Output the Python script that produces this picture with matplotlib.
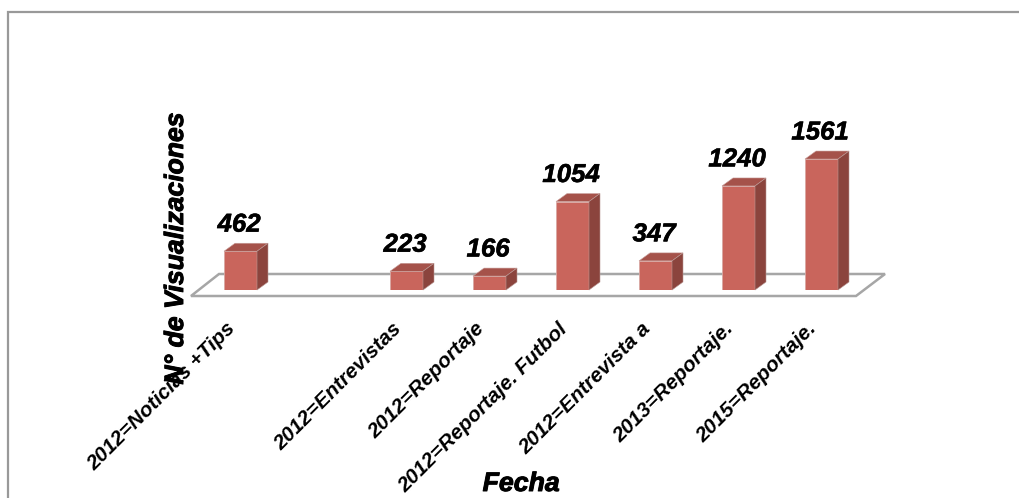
import matplotlib
matplotlib.use("Agg")
import matplotlib.pyplot as plt
import matplotlib.patheffects as pe
from matplotlib.patches import Polygon
from matplotlib.transforms import ScaledTranslation

plt.rcParams['font.family'] = ['Liberation Sans', 'DejaVu Sans']

# datos del grafico
categorias = ['2012=Noticias +Tips', '', '2012=Entrevistas', '2012=Reportaje',
              '2012=Reportaje. Futbol', '2012=Entrevista a', '2013=Reportaje.', '2015=Reportaje.']
visitas = [462, None, 223, 166, 1054, 347, 1240, 1561]

ANCHO, ALTO = 1020, 498
fig = plt.figure(figsize=(ANCHO / 100, ALTO / 100), dpi=100)

# capa de fondo en pixeles para el marco y el piso
fondo = fig.add_axes([0, 0, 1, 1], zorder=0)
fondo.set_xlim(0, ANCHO)
fondo.set_ylim(ALTO, 0)
fondo.axis('off')
gris = '#A6A6A6'
fondo.plot([8.5, 8.5, ANCHO], [ALTO, 12, 12], color='#999999', lw=1.6, solid_joinstyle='miter')
fondo.add_patch(Polygon([(191, 296), (856, 296), (885, 274), (219, 274)], closed=True,
                        facecolor='white', edgecolor=gris, lw=1.8))

# ejes principales: cada categoria ocupa 83 px, 0.0839 px por visita
px_cat = 83
px_val = 0.0839
izq, base, alto_px = 199, 290, 160
ax = fig.add_axes([izq / ANCHO, 1 - base / ALTO, 8 * px_cat / ANCHO, alto_px / ALTO], zorder=1)
ax.patch.set_alpha(0)
ax.set_xlim(-0.5, 7.5)
ax.set_ylim(0, alto_px / px_val)
for lado in ax.spines.values():
    lado.set_visible(False)

# los textos llevan un trazo extra, se ven mas gruesos en el original
medio = [pe.withStroke(linewidth=0.4, foreground='black')]
grueso = [pe.withStroke(linewidth=0.7, foreground='black')]

media = 33 / px_cat / 2
dx = 11 / px_cat
dy = 8 / px_val
for i, v in enumerate(visitas):
    if v is None:
        continue
    ax.bar(i, v, width=2 * media, color='#C9655C', edgecolor='#D9A8A3', lw=0.6, zorder=3)
    ax.add_patch(Polygon([(i - media, v), (i + media, v), (i + media + dx, v + dy), (i - media + dx, v + dy)],
                         closed=True, facecolor='#A5524A', edgecolor='#C9A09C', lw=0.4, zorder=3, clip_on=False))
    ax.add_patch(Polygon([(i + media, 0), (i + media + dx, dy), (i + media + dx, v + dy), (i + media, v)],
                         closed=True, facecolor='#8B443D', edgecolor='#B99894', lw=0.4, zorder=3, clip_on=False))
    ax.annotate(str(v), (i, v), xytext=(-1, 10.5), textcoords='offset points', ha='center', va='bottom',
                fontsize=18.6, fontweight='bold', fontstyle='italic', color='black', clip_on=False,
                path_effects=medio)

ax.set_yticks([])
ax.set_xticks(range(len(categorias)))
ax.set_xticklabels(categorias, rotation=45, ha='right', rotation_mode='anchor',
                   fontsize=15, fontstyle='italic', fontweight='bold')
ax.tick_params(axis='x', length=0, pad=21)
corrimiento = ScaledTranslation(-15 / 100, 0, fig.dpi_scale_trans)
for etiqueta in ax.get_xticklabels():
    etiqueta.set_transform(etiqueta.get_transform() + corrimiento)

fig.text(176 / ANCHO, 1 - 248.5 / ALTO, 'N° de Visualizaciones', rotation=90, ha='center', va='center',
         fontsize=19.1, fontweight='bold', fontstyle='italic', zorder=5, path_effects=grueso)
fig.text(521 / ANCHO, 1 - 484 / ALTO, 'Fecha', ha='center', va='center',
         fontsize=19.2, fontweight='bold', fontstyle='italic', zorder=5, path_effects=grueso)

fig.savefig('out.png', dpi=100)
